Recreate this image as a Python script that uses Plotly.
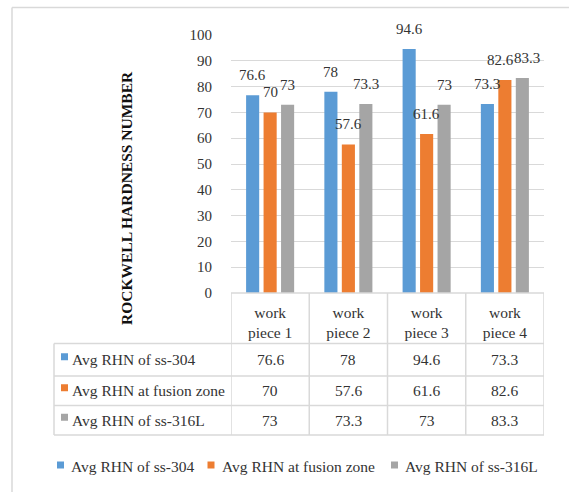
import plotly.graph_objects as go

categories = ["work piece 1", "work piece 2", "work piece 3", "work piece 4"]
series_names = ["Avg RHN of ss-304", "Avg RHN at fusion zone", "Avg RHN of ss-316L"]
ss304 = [76.6, 78, 94.6, 73.3]
fusion = [70, 57.6, 61.6, 82.6]
ss316l = [73, 73.3, 73, 83.3]
y_ticks = [0, 10, 20, 30, 40, 50, 60, 70, 80, 90, 100]
y_title = "ROCKWELL HARDNESS NUMBER"

series_values = [ss304, fusion, ss316l]
colors = ["#5B9BD5", "#ED7D31", "#A5A5A5"]

W, H = 569, 492
L, R, T, B = 231, 25, 35, 199
PW, PH = W - L - R, H - T - B
FONT = "Times New Roman, Liberation Serif, DejaVu Serif, serif"
TXT = "#333333"
GRID = "#D9D9D9"

def px(x):
    return (x - L) / PW

def py(y):
    return (T + PH - y) / PH

bargap = 0.33
bargroupgap = 0.25

fig = go.Figure()
for name, vals, col in zip(series_names, series_values, colors):
    fig.add_trace(go.Bar(x=categories, y=vals, name=name, marker_color=col,
                         marker_line_width=0, showlegend=False))

shapes = []
annotations = []

# data labels above bars (labels of the crowded last group nudged apart)
slot = (1 - bargap) / len(series_values)
nudge = {(1, 3): -4, (2, 3): 5}
for k, vals in enumerate(series_values):
    for i, v in enumerate(vals):
        annotations.append(dict(x=i + (k - 1) * slot, y=v, xref="x", yref="y",
                                text=str(v), showarrow=False, yshift=20,
                                xshift=nudge.get((k, i), 0),
                                font=dict(family=FONT, size=15, color=TXT)))

# outer border (partially visible)
shapes.append(dict(type="line", xref="paper", yref="paper", x0=px(12), x1=px(600),
                   y0=py(7.5), y1=py(7.5), line=dict(color=GRID, width=1.5)))
shapes.append(dict(type="line", xref="paper", yref="paper", x0=px(12), x1=px(12),
                   y0=py(7.5), y1=py(520), line=dict(color=GRID, width=1.5)))

# table
row_edges = [343.5, 376, 405.5, 435]
table_left = 54
n = len(categories)
for j in range(n + 1):
    xb = j - 0.5
    shapes.append(dict(type="line", xref="x", yref="paper", x0=xb, x1=xb,
                       y0=0, y1=py(row_edges[-1]),
                       line=dict(color=GRID, width=1.5)))
shapes.append(dict(type="line", xref="paper", yref="paper", x0=px(table_left), x1=px(table_left),
                   y0=py(row_edges[0]), y1=py(row_edges[-1]), line=dict(color=GRID, width=1.5)))
for ye in row_edges:
    shapes.append(dict(type="line", xref="paper", yref="paper", x0=px(table_left), x1=1,
                       y0=py(ye), y1=py(ye), line=dict(color=GRID, width=1.5)))
shapes.append(dict(type="line", xref="paper", yref="paper", x0=0, x1=1,
                   y0=0, y1=0, line=dict(color=GRID, width=1.5)))

for r, (name, vals, col) in enumerate(zip(series_names, series_values, colors)):
    yc = (row_edges[r] + row_edges[r + 1]) / 2
    shapes.append(dict(type="rect", xref="paper", yref="paper", x0=px(61), x1=px(68),
                       y0=py(yc - 6.5), y1=py(yc + 0.5), fillcolor=col, line=dict(width=0)))
    annotations.append(dict(x=px(70), y=py(yc), xref="paper", yref="paper", text=name,
                            xanchor="left", yanchor="middle", showarrow=False,
                            font=dict(family=FONT, size=15.5, color=TXT)))
    for i, v in enumerate(vals):
        annotations.append(dict(x=i, y=py(yc), xref="x", yref="paper", text=str(v),
                                showarrow=False, yanchor="middle",
                                font=dict(family=FONT, size=15.5, color=TXT)))

# bottom legend
legend_y = 467
legend_text_x = [69, 219.5, 403]
for name, col, lx in zip(series_names, colors, legend_text_x):
    shapes.append(dict(type="rect", xref="paper", yref="paper", x0=px(lx - 12), x1=px(lx - 5),
                       y0=py(legend_y - 5.5), y1=py(legend_y + 1.5), fillcolor=col, line=dict(width=0)))
    annotations.append(dict(x=px(lx), y=py(legend_y), xref="paper", yref="paper", text=name,
                            xanchor="left", yanchor="middle", showarrow=False,
                            font=dict(family=FONT, size=15.5, color=TXT)))

# y axis title
annotations.append(dict(x=px(126), y=py(198), xref="paper", yref="paper", text="<b>" + y_title + "</b>",
                        textangle=-90, showarrow=False, xanchor="center", yanchor="middle",
                        font=dict(family=FONT, size=15.5, color="#111111")))

fig.update_layout(
    width=W, height=H, autosize=False,
    margin=dict(l=L, r=R, t=T, b=B),
    paper_bgcolor="white", plot_bgcolor="white",
    barmode="group", bargap=bargap, bargroupgap=bargroupgap,
    shapes=shapes, annotations=annotations,
    xaxis=dict(tickvals=categories,
               ticktext=[c.replace(" piece", "<br>piece") for c in categories],
               range=[-0.5, n - 0.5], showgrid=False, showline=False, zeroline=False,
               ticks="", ticklabelstandoff=8,
               tickfont=dict(family=FONT, size=15.5, color=TXT)),
    yaxis=dict(range=[0, 100], tickvals=y_ticks, showgrid=True, gridcolor=GRID, gridwidth=1,
               zeroline=False, showline=False, ticks="", ticklabelstandoff=18,
               tickfont=dict(family=FONT, size=15, color=TXT)),
)

fig.write_html("out.html")
